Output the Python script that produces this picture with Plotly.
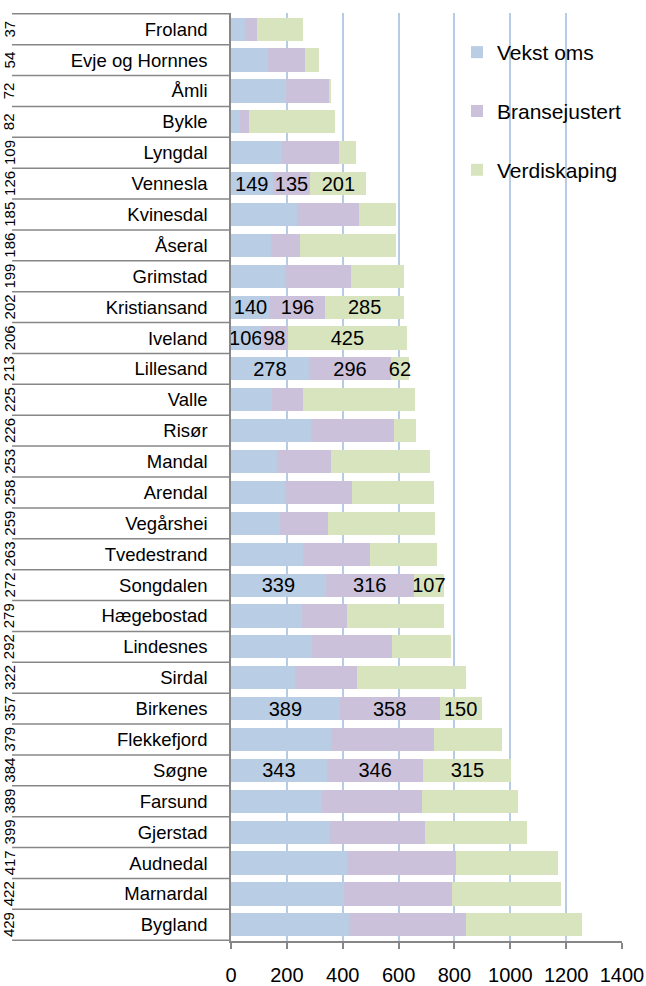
import plotly.graph_objects as go

# municipalities, top to bottom
kommuner = ['Froland', 'Evje og Hornnes', 'Åmli', 'Bykle', 'Lyngdal', 'Vennesla', 'Kvinesdal',
            'Åseral', 'Grimstad', 'Kristiansand', 'Iveland', 'Lillesand', 'Valle', 'Risør',
            'Mandal', 'Arendal', 'Vegårshei', 'Tvedestrand', 'Songdalen', 'Hægebostad',
            'Lindesnes', 'Sirdal', 'Birkenes', 'Flekkefjord', 'Søgne', 'Farsund', 'Gjerstad',
            'Audnedal', 'Marnardal', 'Bygland']
rangering = ['37', '54', '72', '82', '109', '126', '185', '186', '199', '202', '206', '213',
             '225', '226', '253', '258', '259', '263', '272', '279', '292', '322', '357',
             '379', '384', '389', '399', '417', '422', '429']

vekst_oms = [49, 131, 198, 31, 183, 149, 235, 142, 192, 140, 106, 278, 146, 288, 165, 193,
             174, 259, 339, 254, 290, 228, 389, 358, 343, 326, 355, 417, 404, 421]
bransejustert = [44, 135, 154, 35, 204, 135, 225, 104, 239, 196, 98, 296, 113, 297, 192, 242,
                 175, 239, 316, 160, 288, 223, 358, 370, 346, 358, 338, 390, 389, 422]
verdiskaping = [166, 49, 6, 308, 61, 201, 129, 343, 189, 285, 425, 62, 401, 79, 356, 293,
                383, 241, 107, 350, 211, 392, 150, 244, 315, 345, 368, 364, 390, 415]

# only these rows carry value labels
merket = ['Vennesla', 'Kristiansand', 'Iveland', 'Lillesand', 'Songdalen', 'Birkenes', 'Søgne']

serier = [('Vekst oms', vekst_oms, '#b9cde5'),
          ('Bransejustert', bransejustert, '#ccc1da'),
          ('Verdiskaping', verdiskaping, '#d7e4bd')]

grey = '#878787'
fig = go.Figure()
for navn, verdier, farge in serier:
    tekst = [str(v) if k in merket else '' for k, v in zip(kommuner, verdier)]
    fig.add_trace(go.Bar(y=kommuner, x=verdier, name=navn, orientation='h',
                         marker=dict(color=farge, line=dict(width=0)),
                         text=tekst, textposition='inside', insidetextanchor='middle',
                         constraintext='none', textangle=0,
                         textfont=dict(size=20, color='black'),
                         legendgroup=navn, cliponaxis=False))

# rotated rank numbers and row dividers in the category column
for i, r in enumerate(rangering):
    fig.add_annotation(x=-0.567, xref='paper', y=kommuner[i], yref='y', text=r,
                       textangle=-90, showarrow=False, xanchor='center', yanchor='middle',
                       font=dict(size=15, color='black'))
for i in range(len(kommuner) + 1):
    fig.add_shape(type='line', xref='paper', x0=-0.56, x1=0, yref='y', y0=i - 0.5, y1=i - 0.5,
                  line=dict(color=grey, width=1.5))

fig.update_layout(
    width=646, height=986,
    barmode='stack', bargap=0.25,
    plot_bgcolor='white', paper_bgcolor='white',
    font=dict(family='Liberation Sans, Arial, sans-serif', color='black'),
    margin=dict(l=231, r=24, t=13, b=45, autoexpand=False),
    legend=dict(x=0.578, y=0.9795, xanchor='left', yanchor='top', bgcolor='rgba(0,0,0,0)',
                traceorder='grouped', tracegroupgap=28.5, font=dict(size=21),
                itemwidth=30),
    showlegend=True,
)
fig.update_xaxes(range=[0, 1400], dtick=200, showgrid=True, gridcolor='#b7cbe4', gridwidth=1.5,
                 showline=True, linecolor=grey, linewidth=1.5, ticks='outside', ticklen=6,
                 tickcolor=grey, tickwidth=1.5, tickfont=dict(size=20), ticklabelstandoff=9,
                 zeroline=False, automargin=False)
fig.update_yaxes(autorange='reversed', showline=True, linecolor=grey, linewidth=1.5,
                 ticks='', tickfont=dict(size=18.5), ticklabelstandoff=18, automargin=False)

# drop the page's default 8px body margin so the figure fills the window
fig.write_html("out.html", config={'displayModeBar': False},
               post_script="document.body.style.margin='0';")
